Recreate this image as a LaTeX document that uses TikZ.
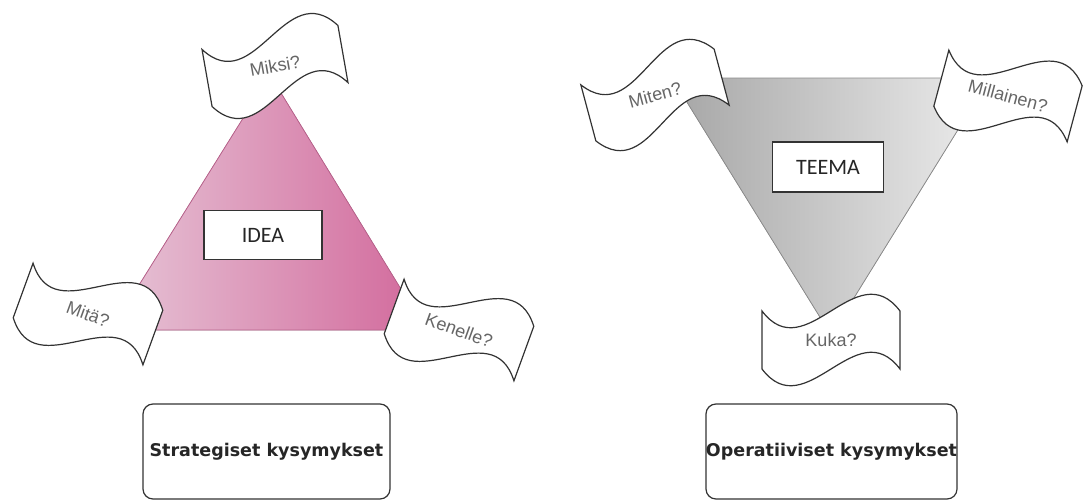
\documentclass[tikz,border=0pt]{standalone}
\usepackage{fontspec}
\setmainfont{Liberation Sans}
\newfontfamily\flagfont{Liberation Sans}
\newfontfamily\ideafont{Carlito}
\newfontfamily\capfont{DejaVu Sans}
\definecolor{pinklight}{HTML}{E6C4D6}
\definecolor{pinkdark}{HTML}{D2689B}
\definecolor{pinkline}{HTML}{B9628C}
\definecolor{greydark}{HTML}{A6A6A6}
\definecolor{greylight}{HTML}{EDEDED}
\definecolor{greyline}{HTML}{8C8C8C}
\definecolor{ink}{HTML}{333333}
\definecolor{flagink}{HTML}{666666}

% wavy tape: name, x, y, angle, text
\newcommand{\banner}[5]{%
\begin{scope}[shift={(#2,#3)},rotate=#4]
\draw[bannerline] (-69,29) .. controls (-25,-29) and (25,87) .. (69,29) -- (69,-29)
  .. controls (25,29) and (-25,-87) .. (-69,-29) -- cycle;
\node[bannertext,rotate=#4] (#1) at (0,0) {#5};
\end{scope}}

\begin{document}
\begin{tikzpicture}[x=1pt,y=1pt]
\tikzstyle{bannerline}=[draw=ink,fill=white,line width=1.2pt];
\tikzstyle{bannertext}=[text=flagink,font=\flagfont\fontsize{18}{21}\selectfont,inner sep=0pt];
\tikzstyle{titlebox}=[draw=ink,fill=white,line width=1.2pt,inner sep=0pt,font=\ideafont\fontsize{22}{26}\selectfont,text=black!85];
\tikzstyle{groupbox}=[draw=ink,fill=white,line width=1.2pt,rounded corners=10pt,inner sep=0pt,
  minimum width=247pt,minimum height=95pt,font=\capfont\bfseries\fontsize{17.5}{21}\selectfont,text=black!85];
\useasboundingbox (0,0) rectangle (1085,-501);

% strategic side
\filldraw[left color=pinklight,right color=pinkdark,draw=pinkline,line width=0.8pt]
  (111,-330) -- (426,-330) -- (270,-75) -- cycle;
\node[titlebox,minimum width=118pt,minimum height=49pt] (idea) at (263,-235) {IDEA};
\banner{miksi}{275}{-66}{10}{Miksi?}
\banner{mita}{88}{-314}{-20}{Mitä?}
\banner{kenelle}{459}{-330}{-20}{Kenelle?}
\node[groupbox] (strat) at (266.5,-451.5) {Strategiset kysymykset};

% operative side
\filldraw[left color=greydark,right color=greylight,draw=greyline,line width=0.8pt]
  (672,-78) -- (990,-78) -- (831,-335) -- cycle;
\node[titlebox,minimum width=111pt,minimum height=50pt] (teema) at (828,-167) {TEEMA};
\banner{miten}{655}{-95}{15}{Miten?}
\banner{millainen}{1008}{-96}{-15}{Millainen?}
\banner{kuka}{831}{-340}{0}{Kuka?}
\node[groupbox] (oper) at (831.5,-451.5) {Operatiiviset kysymykset};
\end{tikzpicture}
\end{document}
